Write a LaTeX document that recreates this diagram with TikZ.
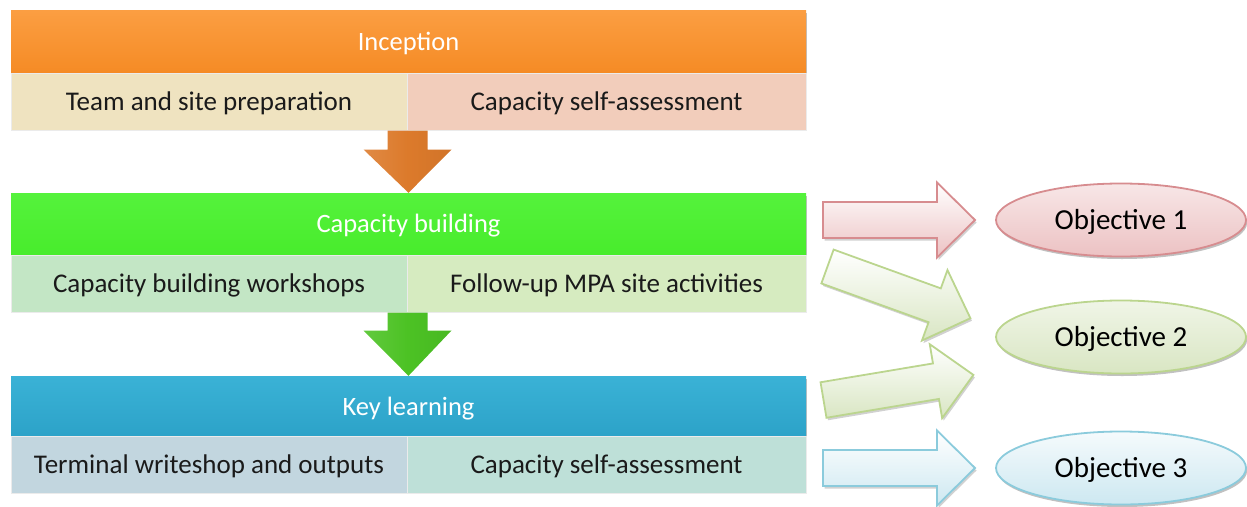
\documentclass[tikz,border=0pt]{standalone}
\usepackage{fontspec}
\setmainfont{Carlito}
\usetikzlibrary{shapes.geometric,shadows,calc}

% phase colours
\definecolor{incTop}{HTML}{FB9E42}
\definecolor{incBot}{HTML}{F58B25}
\definecolor{incA}{HTML}{EFE3C0}
\definecolor{incB}{HTML}{F2CDBB}
\definecolor{cbTop}{HTML}{55F23C}
\definecolor{cbBot}{HTML}{48EC2C}
\definecolor{cbA}{HTML}{C3E6C5}
\definecolor{cbB}{HTML}{D6EBC0}
\definecolor{klTop}{HTML}{3AB2D6}
\definecolor{klBot}{HTML}{2CA2C8}
\definecolor{klA}{HTML}{C2D6DF}
\definecolor{klB}{HTML}{BEE0D8}
\definecolor{orArrow}{HTML}{DC7A2B}
\definecolor{grArrow}{HTML}{4CC224}
% objective colours
\definecolor{redLine}{HTML}{D78C8F}
\definecolor{redFill}{HTML}{ECC2C3}
\definecolor{greenLine}{HTML}{BBD58E}
\definecolor{greenFill}{HTML}{D9E6C3}
\definecolor{blueLine}{HTML}{8BCBDC}
\definecolor{blueFill}{HTML}{CDE8F1}
\definecolor{txt}{HTML}{1A1A1A}

\tikzset{
  x=1pt, y=-1pt,
  shadowed/.style={drop shadow={shadow xshift=1.2pt, shadow yshift=-2.5pt, opacity=0.35, fill=black!70}},
  header/.style={rectangle, shadowed, minimum width=795, minimum height=62, inner sep=0,
                 text depth=1pt, text=white, font=\fontsize{26.5}{30}\selectfont},
  cell/.style={rectangle, draw=white!92!black, line width=1pt, minimum height=57, inner sep=0,
               text depth=1pt, text=txt, font=\fontsize{27}{31}\selectfont},
  objell/.style={ellipse, shadowed, line width=1.8pt, minimum width=250, minimum height=73, inner sep=0,
                 text depth=1pt, text=black, font=\fontsize{29}{33}\selectfont},
  objarrow/.pic={
    \path[pic actions, drop shadow={shadow xshift=1.5pt, shadow yshift=-2.5pt, opacity=0.3, fill=black!60}]
      (0,-18) -- (114,-18) -- (114,-37.5) -- (152,0) -- (114,37.5) -- (114,18) -- (0,18) -- cycle;
  }
}

\begin{document}
\begin{tikzpicture}
\useasboundingbox (0,0) rectangle (1247,506);

% ---- Inception ----
\node[header, top color=incTop, bottom color=incBot] (inc) at (408.5,41.5) {Inception};
\node[cell, fill=incA, minimum width=396] (inca) at (209,101.5) {Team and site preparation};
\node[cell, fill=incB, minimum width=399] (incb) at (606.5,101.5) {Capacity self-assessment};

% ---- Capacity building ----
\node[header, top color=cbTop, bottom color=cbBot] (cb) at (408.5,224) {Capacity building};
\node[cell, fill=cbA, minimum width=396] (cba) at (209,283.5) {Capacity building workshops};
\node[cell, fill=cbB, minimum width=399] (cbb) at (606.5,283.5) {Follow-up MPA site activities};

% ---- Key learning ----
\node[header, top color=klTop, bottom color=klBot] (kl) at (408.5,407) {Key learning};
\node[cell, fill=klA, minimum width=396] (kla) at (209,465) {Terminal writeshop and outputs};
\node[cell, fill=klB, minimum width=399] (klb) at (606.5,465) {Capacity self-assessment};

% ---- block arrows between phases ----
\path[left color=orArrow!88!white, right color=orArrow!95!black, middle color=orArrow]
  ($(inca.south east)+(-20,0)$) -- ++(0,19) -- ++(-24,0) -- (cb.north)
  -- ($(inca.south east)+(44,19)$) -- ++(-24,0) -- ++(0,-19) -- cycle;
\path[left color=grArrow!88!white, right color=grArrow!95!black, middle color=grArrow]
  ($(cba.south east)+(-20,0)$) -- ++(0,18) -- ++(-24,0) -- (kl.north)
  -- ($(cba.south east)+(44,18)$) -- ++(-24,0) -- ++(0,-18) -- cycle;

% ---- objectives ----
\node[objell, draw=redLine, top color=redFill!40!white, bottom color=redFill] (o1) at (1121,220) {Objective 1};
\node[objell, draw=greenLine, top color=greenFill!40!white, bottom color=greenFill] (o2) at (1121,337) {Objective 2};
\node[objell, draw=blueLine, top color=blueFill!20!white, bottom color=blueFill] (o3) at (1121,468) {Objective 3};

% ---- arrows towards the objectives ----
\pic[draw=redLine, line width=1.8pt, top color=white, bottom color=redFill] at (823,220) {objarrow};
\pic[draw=greenLine, line width=1.8pt, top color=white, bottom color=greenFill, rotate=-19.9] at (827.5,266.5) {objarrow};
\pic[draw=greenLine, line width=1.8pt, top color=white, bottom color=greenFill, rotate=9.5] at (823.5,400) {objarrow};
\pic[draw=blueLine, line width=1.8pt, top color=white, bottom color=blueFill] at (823,468) {objarrow};
\end{tikzpicture}
\end{document}
